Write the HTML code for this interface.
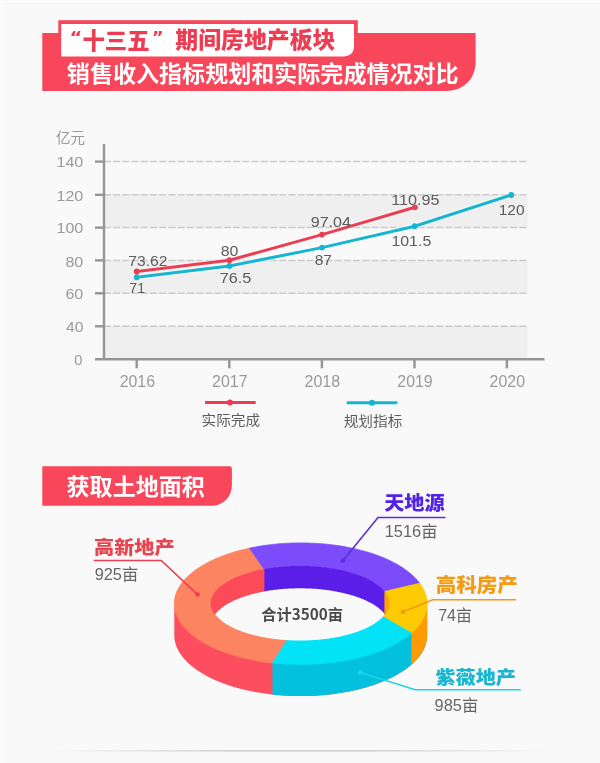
<!DOCTYPE html>
<html><head><meta charset="utf-8"><title>十三五 房地产板块</title>
<style>
html,body{margin:0;padding:0;background:#f9f9f9;}
body{width:600px;height:763px;overflow:hidden;position:relative;}
svg{position:absolute;left:0;top:0;will-change:transform;}
text{font-family:"Liberation Sans","Noto Sans CJK SC",sans-serif;}
.ax{font-size:15px;}
.axc{font-size:14px;}
.yr{font-size:16px;}
.dl{font-size:15px;}
.lg{font-size:14px;}
.ln{font-size:20px;font-weight:900;font-family:"Noto Sans CJK SC",sans-serif;}
.lv{font-size:16px;}
.ct{font-size:16px;font-weight:bold;font-family:"Noto Sans CJK SC",sans-serif;}
.t1{font-family:"Noto Sans CJK SC",sans-serif;font-size:23px;font-weight:900;}
.tq{font-family:"DejaVu Sans",sans-serif;font-size:24px;font-weight:bold;}
.t2{font-family:"Noto Sans CJK SC",sans-serif;font-size:23px;font-weight:bold;}
.t3{font-family:"Noto Sans CJK SC",sans-serif;font-size:23px;font-weight:bold;}
</style></head>
<body>
<svg width="600" height="763" viewBox="0 0 600 763">
<rect width="600" height="763" fill="#f9f9f9"/>
<!-- title -->
<path d="M42.3,33 H475.6 V63 A28 28 0 0 1 447.6,91 H42.3 Z" fill="#f8465b"/>
<rect x="58.3" y="20.2" width="299.5" height="20" fill="#f8465b"/>
<path d="M61.2,23.9 H354 V45.5 Q354,56.4 343,56.4 H61.2 Z" fill="#fff"/>
<!-- chart -->
<rect x="105" y="194.8" width="422.5" height="32.8" fill="#efefef"/>
<rect x="105" y="260.4" width="422.5" height="32.9" fill="#efefef"/>
<rect x="105" y="326.3" width="422.5" height="33" fill="#efefef"/>
<line x1="103.8" y1="161.6" x2="527.5" y2="161.6" stroke="#cccccc" stroke-width="1.5" stroke-dasharray="7.2 2.03"/>
<line x1="95" y1="161.6" x2="104" y2="161.6" stroke="#959595" stroke-width="2.4"/>
<line x1="103.8" y1="194.8" x2="527.5" y2="194.8" stroke="#cccccc" stroke-width="1.5" stroke-dasharray="7.2 2.03"/>
<line x1="95" y1="194.8" x2="104" y2="194.8" stroke="#959595" stroke-width="2.4"/>
<line x1="103.8" y1="227.6" x2="527.5" y2="227.6" stroke="#cccccc" stroke-width="1.5" stroke-dasharray="7.2 2.03"/>
<line x1="95" y1="227.6" x2="104" y2="227.6" stroke="#959595" stroke-width="2.4"/>
<line x1="103.8" y1="260.4" x2="527.5" y2="260.4" stroke="#cccccc" stroke-width="1.5" stroke-dasharray="7.2 2.03"/>
<line x1="95" y1="260.4" x2="104" y2="260.4" stroke="#959595" stroke-width="2.4"/>
<line x1="103.8" y1="293.3" x2="527.5" y2="293.3" stroke="#cccccc" stroke-width="1.5" stroke-dasharray="7.2 2.03"/>
<line x1="95" y1="293.3" x2="104" y2="293.3" stroke="#959595" stroke-width="2.4"/>
<line x1="103.8" y1="326.3" x2="527.5" y2="326.3" stroke="#cccccc" stroke-width="1.5" stroke-dasharray="7.2 2.03"/>
<line x1="95" y1="326.3" x2="104" y2="326.3" stroke="#959595" stroke-width="2.4"/>
<line x1="104" y1="144" x2="104" y2="360" stroke="#959595" stroke-width="2.4"/>
<line x1="95" y1="359.3" x2="544.5" y2="359.3" stroke="#959595" stroke-width="2.4"/>
<line x1="136.7" y1="359" x2="136.7" y2="368.3" stroke="#959595" stroke-width="2.4"/>
<line x1="229.3" y1="359" x2="229.3" y2="368.3" stroke="#959595" stroke-width="2.4"/>
<line x1="321.9" y1="359" x2="321.9" y2="368.3" stroke="#959595" stroke-width="2.4"/>
<line x1="414.5" y1="359" x2="414.5" y2="368.3" stroke="#959595" stroke-width="2.4"/>
<line x1="506.9" y1="359" x2="506.9" y2="368.3" stroke="#959595" stroke-width="2.4"/>
<polyline points="136.75,277.25 229.40,266.00 322.00,247.60 414.70,226.20 511.30,195.00" fill="none" stroke="#fff" stroke-opacity="0.5" stroke-width="5.5" stroke-linejoin="round"/>
<polyline points="136.75,271.50 229.40,260.25 322.00,234.60 414.90,207.30" fill="none" stroke="#fff" stroke-opacity="0.5" stroke-width="5.5" stroke-linejoin="round"/>
<polyline points="136.75,277.25 229.40,266.00 322.00,247.60 414.70,226.20 511.30,195.00" fill="none" stroke="#17b6d0" stroke-width="3" stroke-linejoin="round"/>
<circle cx="136.75" cy="277.25" r="2.9" fill="#17b6d0"/>
<circle cx="229.40" cy="266.00" r="2.9" fill="#17b6d0"/>
<circle cx="322.00" cy="247.60" r="2.9" fill="#17b6d0"/>
<circle cx="414.70" cy="226.20" r="2.9" fill="#17b6d0"/>
<circle cx="511.30" cy="195.00" r="2.9" fill="#17b6d0"/>
<polyline points="136.75,271.50 229.40,260.25 322.00,234.60 414.90,207.30" fill="none" stroke="#eb3e53" stroke-width="3" stroke-linejoin="round"/>
<circle cx="136.75" cy="271.50" r="2.9" fill="#eb3e53"/>
<circle cx="229.40" cy="260.25" r="2.9" fill="#eb3e53"/>
<circle cx="322.00" cy="234.60" r="2.9" fill="#eb3e53"/>
<circle cx="414.90" cy="207.30" r="2.9" fill="#eb3e53"/>
<line x1="205" y1="402.5" x2="255.7" y2="402.5" stroke="#eb3e53" stroke-width="3"/>
<circle cx="230" cy="402.5" r="3" fill="#eb3e53"/>
<line x1="346.7" y1="402.7" x2="397.4" y2="402.7" stroke="#17b6d0" stroke-width="3"/>
<circle cx="372" cy="402.7" r="3" fill="#17b6d0"/>
<!-- section 2 title -->
<path d="M42.3,466.2 H229.4 Q231.9,466.2 231.9,468.7 V485.6 A20 20 0 0 1 211.9,505.7 H42.3 Z" fill="#f8465b"/>
<!-- donut -->
<path d="M427.10,602.20 L427.06,603.79 L426.93,605.38 L426.71,606.97 L426.41,608.56 L426.02,610.14 L425.54,611.71 L424.98,613.28 L424.34,614.84 L423.61,616.39 L422.79,617.94 L421.89,619.47 L420.91,620.99 L419.85,622.50 L418.70,623.99 L417.48,625.47 L416.17,626.93 L414.79,628.38 L413.32,629.80 L411.78,631.21 L410.17,632.60 L408.47,633.97 L406.71,635.31 L404.87,636.64 L402.96,637.94 L400.98,639.21 L398.93,640.46 L396.82,641.69 L394.63,642.88 L392.39,644.05 L390.08,645.19 L387.71,646.30 L385.28,647.38 L382.79,648.43 L380.25,649.45 L377.65,650.44 L375.00,651.39 L372.29,652.31 L369.54,653.19 L366.74,654.04 L363.90,654.85 L361.01,655.63 L358.08,656.37 L355.12,657.08 L352.11,657.74 L349.07,658.37 L346.00,658.96 L342.89,659.51 L339.76,660.02 L336.60,660.50 L333.41,660.93 L330.21,661.32 L326.98,661.67 L323.73,661.98 L320.47,662.25 L317.20,662.48 L313.91,662.67 L310.62,662.81 L307.32,662.92 L304.01,662.98 L300.70,663.00 L297.39,662.98 L294.08,662.92 L290.78,662.81 L287.49,662.67 L284.20,662.48 L280.93,662.25 L277.67,661.98 L274.42,661.67 L271.19,661.32 L267.99,660.93 L264.80,660.50 L261.64,660.02 L258.51,659.51 L255.40,658.96 L252.33,658.37 L249.29,657.74 L246.28,657.08 L243.32,656.37 L240.39,655.63 L237.50,654.85 L234.66,654.04 L231.86,653.19 L229.11,652.31 L226.40,651.39 L223.75,650.44 L221.15,649.45 L218.61,648.43 L216.12,647.38 L213.69,646.30 L211.32,645.19 L209.01,644.05 L206.77,642.88 L204.58,641.69 L202.47,640.46 L200.42,639.21 L198.44,637.94 L196.53,636.64 L194.69,635.31 L192.93,633.97 L191.23,632.60 L189.62,631.21 L188.08,629.80 L186.61,628.38 L185.23,626.93 L183.92,625.47 L182.70,623.99 L181.55,622.50 L180.49,620.99 L179.51,619.47 L178.61,617.94 L177.79,616.39 L177.06,614.84 L176.42,613.28 L175.86,611.71 L175.38,610.14 L174.99,608.56 L174.69,606.97 L174.47,605.38 L174.34,603.79 L174.30,602.20 L174.30,635.30 L174.34,636.89 L174.47,638.48 L174.69,640.07 L174.99,641.66 L175.38,643.24 L175.86,644.81 L176.42,646.38 L177.06,647.94 L177.79,649.49 L178.61,651.04 L179.51,652.57 L180.49,654.09 L181.55,655.60 L182.70,657.09 L183.92,658.57 L185.23,660.03 L186.61,661.48 L188.08,662.90 L189.62,664.31 L191.23,665.70 L192.93,667.07 L194.69,668.41 L196.53,669.74 L198.44,671.04 L200.42,672.31 L202.47,673.56 L204.58,674.79 L206.77,675.98 L209.01,677.15 L211.32,678.29 L213.69,679.40 L216.12,680.48 L218.61,681.53 L221.15,682.55 L223.75,683.54 L226.40,684.49 L229.11,685.41 L231.86,686.29 L234.66,687.14 L237.50,687.95 L240.39,688.73 L243.32,689.47 L246.28,690.18 L249.29,690.84 L252.33,691.47 L255.40,692.06 L258.51,692.61 L261.64,693.12 L264.80,693.60 L267.99,694.03 L271.19,694.42 L274.42,694.77 L277.67,695.08 L280.93,695.35 L284.20,695.58 L287.49,695.77 L290.78,695.91 L294.08,696.02 L297.39,696.08 L300.70,696.10 L304.01,696.08 L307.32,696.02 L310.62,695.91 L313.91,695.77 L317.20,695.58 L320.47,695.35 L323.73,695.08 L326.98,694.77 L330.21,694.42 L333.41,694.03 L336.60,693.60 L339.76,693.12 L342.89,692.61 L346.00,692.06 L349.07,691.47 L352.11,690.84 L355.12,690.18 L358.08,689.47 L361.01,688.73 L363.90,687.95 L366.74,687.14 L369.54,686.29 L372.29,685.41 L375.00,684.49 L377.65,683.54 L380.25,682.55 L382.79,681.53 L385.28,680.48 L387.71,679.40 L390.08,678.29 L392.39,677.15 L394.63,675.98 L396.82,674.79 L398.93,673.56 L400.98,672.31 L402.96,671.04 L404.87,669.74 L406.71,668.41 L408.47,667.07 L410.17,665.70 L411.78,664.31 L413.32,662.90 L414.79,661.48 L416.17,660.03 L417.48,658.57 L418.70,657.09 L419.85,655.60 L420.91,654.09 L421.89,652.57 L422.79,651.04 L423.61,649.49 L424.34,647.94 L424.98,646.38 L425.54,644.81 L426.02,643.24 L426.41,641.66 L426.71,640.07 L426.93,638.48 L427.06,636.89 L427.10,635.30 Z" fill="#fd4e5f"/>
<path d="M427.10,602.20 L427.06,603.81 L426.92,605.41 L426.70,607.01 L426.40,608.61 L426.00,610.21 L425.52,611.79 L424.95,613.38 L424.29,614.95 L423.55,616.52 L422.72,618.07 L421.80,619.62 L420.81,621.15 L419.72,622.67 L418.56,624.17 L417.31,625.66 L415.98,627.13 L414.57,628.59 L413.08,630.03 L411.52,631.44 L409.87,632.84 L408.15,634.22 L406.36,635.57 L404.49,636.90 L402.55,638.21 L400.54,639.49 L398.45,640.74 L396.30,641.97 L394.09,643.17 L391.81,644.34 L389.46,645.49 L387.05,646.60 L384.59,647.68 L382.06,648.73 L379.48,649.75 L376.84,650.73 L374.15,651.68 L371.41,652.60 L368.61,653.48 L365.78,654.32 L362.89,655.13 L359.96,655.90 L357.00,656.64 L353.99,657.33 L350.94,657.99 L347.86,658.61 L344.75,659.19 L341.60,659.73 L338.43,660.23 L335.23,660.69 L332.01,661.11 L328.77,661.48 L325.50,661.82 L322.22,662.11 L318.92,662.36 L315.61,662.58 L312.29,662.74 L308.97,662.87 L305.63,662.95 L302.30,663.00 L298.96,662.99 L295.62,662.95 L292.29,662.87 L288.96,662.74 L285.64,662.57 L282.33,662.35 L279.04,662.10 L275.76,661.80 L272.49,661.47 L272.49,694.57 L275.76,694.90 L279.04,695.20 L282.33,695.45 L285.64,695.67 L288.96,695.84 L292.29,695.97 L295.62,696.05 L298.96,696.09 L302.30,696.10 L305.63,696.05 L308.97,695.97 L312.29,695.84 L315.61,695.68 L318.92,695.46 L322.22,695.21 L325.50,694.92 L328.77,694.58 L332.01,694.21 L335.23,693.79 L338.43,693.33 L341.60,692.83 L344.75,692.29 L347.86,691.71 L350.94,691.09 L353.99,690.43 L357.00,689.74 L359.96,689.00 L362.89,688.23 L365.78,687.42 L368.61,686.58 L371.41,685.70 L374.15,684.78 L376.84,683.83 L379.48,682.85 L382.06,681.83 L384.59,680.78 L387.05,679.70 L389.46,678.59 L391.81,677.44 L394.09,676.27 L396.30,675.07 L398.45,673.84 L400.54,672.59 L402.55,671.31 L404.49,670.00 L406.36,668.67 L408.15,667.32 L409.87,665.94 L411.52,664.54 L413.08,663.13 L414.57,661.69 L415.98,660.23 L417.31,658.76 L418.56,657.27 L419.72,655.77 L420.81,654.25 L421.80,652.72 L422.72,651.17 L423.55,649.62 L424.29,648.05 L424.95,646.48 L425.52,644.89 L426.00,643.31 L426.40,641.71 L426.70,640.11 L426.92,638.51 L427.06,636.91 L427.10,635.30 Z" fill="#03c1de"/>
<path d="M427.10,602.20 L427.06,603.81 L426.92,605.42 L426.70,607.03 L426.39,608.63 L425.99,610.23 L425.51,611.82 L424.93,613.41 L424.27,614.98 L423.53,616.55 L422.69,618.11 L421.77,619.66 L420.77,621.20 L419.68,622.72 L418.51,624.23 L417.26,625.72 L415.92,627.20 L414.51,628.66 L413.01,630.10 L411.43,631.52 L411.43,664.62 L413.01,663.20 L414.51,661.76 L415.92,660.30 L417.26,658.82 L418.51,657.33 L419.68,655.82 L420.77,654.30 L421.77,652.76 L422.69,651.21 L423.53,649.65 L424.27,648.08 L424.93,646.51 L425.51,644.92 L425.99,643.33 L426.39,641.73 L426.70,640.13 L426.92,638.52 L427.06,636.91 L427.10,635.30 Z" fill="#ff9a00"/>
<path d="M272.49,662.97 L269.26,662.59 L266.05,662.17 L262.87,661.71 L259.71,661.21 L256.58,660.68 L253.48,660.10 L250.41,659.48 L247.38,658.83 L244.38,658.13 L241.42,657.40 L238.51,656.63 L235.64,655.83 L232.81,654.99 L230.03,654.11 L227.30,653.20 L224.61,652.25 L221.99,651.27 L219.41,650.26 L216.89,649.22 L214.44,648.14 L212.04,647.03 L209.70,645.90 L207.42,644.73 L205.21,643.54 L203.06,642.31 L200.99,641.07 L198.98,639.79 L197.04,638.49 L195.17,637.17 L193.38,635.82 L191.66,634.45 L190.02,633.06 L188.45,631.65 L186.96,630.22 L185.55,628.77 L184.22,627.31 L182.97,625.83 L181.80,624.33 L180.71,622.82 L179.71,621.29 L178.79,619.76 L177.95,618.21 L177.20,616.65 L176.54,615.08 L175.96,613.51 L175.46,611.93 L175.06,610.34 L174.74,608.75 L174.50,607.15 L174.36,605.56 L174.30,603.96 L174.33,602.36 L174.45,600.76 L174.65,599.16 L174.94,597.57 L175.32,595.98 L175.79,594.40 L176.34,592.82 L176.98,591.25 L177.70,589.69 L178.51,588.14 L179.40,586.60 L180.38,585.07 L181.44,583.55 L182.58,582.05 L183.81,580.57 L185.11,579.09 L186.50,577.64 L187.96,576.21 L189.51,574.79 L191.12,573.39 L192.82,572.02 L194.59,570.66 L196.43,569.33 L198.35,568.02 L200.33,566.74 L202.39,565.48 L204.51,564.25 L206.70,563.05 L208.96,561.88 L211.28,560.73 L213.66,559.61 L216.10,558.53 L218.60,557.47 L221.15,556.45 L223.76,555.46 L226.43,554.50 L229.14,553.58 L231.91,552.69 L234.72,551.84 L237.58,551.02 L240.48,550.24 L243.43,549.50 L246.41,548.79 L249.43,548.13 L265.21,570.85 L263.13,571.23 L261.07,571.64 L259.04,572.06 L257.03,572.51 L255.06,572.98 L253.11,573.47 L251.20,573.98 L249.32,574.51 L247.48,575.06 L245.67,575.63 L243.90,576.22 L242.17,576.83 L240.48,577.46 L238.82,578.10 L237.21,578.76 L235.65,579.44 L234.13,580.14 L232.65,580.85 L231.22,581.58 L229.83,582.32 L228.50,583.08 L227.21,583.85 L225.97,584.63 L224.79,585.43 L223.65,586.24 L222.57,587.06 L221.54,587.89 L220.57,588.73 L219.64,589.59 L218.78,590.45 L217.97,591.32 L217.21,592.20 L216.52,593.09 L215.88,593.98 L215.30,594.88 L214.77,595.79 L214.31,596.70 L213.90,597.62 L213.55,598.54 L213.26,599.47 L213.03,600.39 L212.86,601.32 L212.75,602.25 L212.70,603.19 L212.71,604.12 L212.78,605.05 L212.91,605.98 L213.10,606.91 L213.35,607.84 L213.66,608.76 L214.03,609.68 L214.45,610.60 L214.94,611.51 L215.48,612.41 L216.08,613.31 L216.74,614.20 L217.46,615.09 L218.23,615.97 L219.06,616.84 L219.94,617.70 L220.88,618.55 L221.87,619.39 L222.92,620.21 L224.02,621.03 L225.17,621.84 L226.37,622.63 L227.63,623.41 L228.93,624.17 L230.28,624.93 L231.68,625.66 L233.13,626.38 L234.62,627.09 L236.16,627.78 L237.74,628.45 L239.36,629.11 L241.03,629.75 L242.73,630.37 L244.48,630.97 L246.26,631.56 L248.08,632.12 L249.93,632.66 L251.82,633.19 L253.75,633.69 L255.70,634.18 L257.69,634.64 L259.70,635.08 L261.74,635.50 L263.81,635.90 L265.90,636.27 L268.02,636.62 L270.15,636.95 L272.31,637.26 L274.49,637.55 L276.68,637.81 L278.89,638.04 L281.12,638.26 L283.36,638.45 L285.61,638.61 L287.87,638.75 Z" fill="#fd8460" stroke="#fd8460" stroke-width="0.7" stroke-linejoin="round"/>
<path d="M249.43,548.13 L252.51,547.49 L255.63,546.90 L258.78,546.34 L261.96,545.83 L265.16,545.35 L268.39,544.92 L271.65,544.53 L274.92,544.18 L278.21,543.87 L281.52,543.60 L284.84,543.38 L288.18,543.20 L291.52,543.06 L294.86,542.96 L298.22,542.91 L301.57,542.90 L304.92,542.93 L308.27,543.01 L311.62,543.13 L314.95,543.29 L318.28,543.49 L321.60,543.74 L324.90,544.02 L328.18,544.35 L331.44,544.73 L334.68,545.14 L337.90,545.59 L341.09,546.09 L344.26,546.62 L347.39,547.20 L350.49,547.82 L353.55,548.47 L356.58,549.16 L359.57,549.90 L362.52,550.67 L365.42,551.47 L368.28,552.32 L371.09,553.20 L373.85,554.11 L376.56,555.07 L379.21,556.05 L381.81,557.07 L384.36,558.12 L386.84,559.20 L389.26,560.32 L391.62,561.46 L393.92,562.64 L396.15,563.84 L398.32,565.08 L400.41,566.34 L402.44,567.62 L404.39,568.93 L406.28,570.27 L408.08,571.63 L409.81,573.01 L411.47,574.41 L413.04,575.84 L414.54,577.28 L415.96,578.74 L417.29,580.22 L418.55,581.72 L419.72,583.23 L382.57,591.94 L381.80,591.06 L380.97,590.19 L380.09,589.33 L379.15,588.48 L378.16,587.64 L377.12,586.81 L376.02,586.00 L374.87,585.19 L373.67,584.40 L372.41,583.62 L371.11,582.85 L369.76,582.10 L368.36,581.36 L366.92,580.64 L365.43,579.93 L363.89,579.24 L362.31,578.57 L360.69,577.91 L359.03,577.27 L357.32,576.65 L355.58,576.05 L353.79,575.46 L351.98,574.90 L350.12,574.35 L348.23,573.83 L346.31,573.32 L344.36,572.84 L342.37,572.37 L340.36,571.93 L338.32,571.51 L336.25,571.11 L334.16,570.74 L332.04,570.38 L329.91,570.05 L327.75,569.75 L325.57,569.46 L323.38,569.20 L321.16,568.96 L318.94,568.75 L316.70,568.56 L314.45,568.39 L312.19,568.25 L309.92,568.13 L307.65,568.04 L305.37,567.97 L303.09,567.92 L300.80,567.90 L298.51,567.91 L296.23,567.93 L293.95,567.99 L291.67,568.06 L289.39,568.16 L287.13,568.29 L284.87,568.44 L282.63,568.61 L280.39,568.81 L278.17,569.03 L275.96,569.28 L273.78,569.54 L271.60,569.84 L269.45,570.15 L267.32,570.49 L265.21,570.85 Z" fill="#7c4cfa" stroke="#7c4cfa" stroke-width="0.7" stroke-linejoin="round"/>
<path d="M419.72,583.23 L420.80,584.75 L421.80,586.28 L422.72,587.83 L423.55,589.39 L424.29,590.96 L424.95,592.53 L425.52,594.12 L426.00,595.71 L426.40,597.31 L426.71,598.91 L426.93,600.52 L427.06,602.12 L427.10,603.73 L427.05,605.34 L426.92,606.95 L426.70,608.55 L426.39,610.15 L425.99,611.75 L425.50,613.34 L424.93,614.93 L424.27,616.50 L423.52,618.07 L422.69,619.63 L421.77,621.17 L420.76,622.71 L419.68,624.23 L418.51,625.74 L417.25,627.23 L415.92,628.70 L414.50,630.16 L413.01,631.60 L411.43,633.02 L381.84,615.90 L382.61,615.01 L383.33,614.12 L383.99,613.22 L384.58,612.31 L385.13,611.40 L385.61,610.48 L386.03,609.55 L386.39,608.63 L386.69,607.69 L386.93,606.76 L387.11,605.82 L387.23,604.88 L387.29,603.94 L387.29,603.00 L387.23,602.06 L387.11,601.13 L386.92,600.19 L386.68,599.26 L386.37,598.32 L386.01,597.40 L385.58,596.47 L385.10,595.55 L384.55,594.64 L383.95,593.73 L383.29,592.83 L382.57,591.94 Z" fill="#fecb02" stroke="#fecb02" stroke-width="0.7" stroke-linejoin="round"/>
<path d="M411.43,633.02 L409.79,634.41 L408.07,635.79 L406.27,637.14 L404.40,638.47 L402.46,639.77 L400.44,641.05 L398.36,642.30 L396.21,643.53 L393.99,644.72 L391.71,645.89 L389.36,647.03 L386.96,648.14 L384.49,649.22 L381.96,650.27 L379.38,651.28 L376.74,652.27 L374.05,653.21 L371.31,654.13 L368.52,655.01 L365.69,655.85 L362.80,656.66 L359.88,657.42 L356.91,658.16 L353.91,658.85 L350.86,659.51 L347.79,660.12 L344.67,660.70 L341.53,661.24 L338.36,661.74 L335.17,662.20 L331.95,662.61 L328.71,662.99 L325.45,663.32 L322.17,663.62 L318.87,663.87 L315.57,664.08 L312.25,664.25 L308.93,664.37 L305.60,664.45 L302.26,664.50 L298.93,664.49 L295.60,664.45 L292.27,664.36 L288.94,664.24 L285.63,664.07 L282.32,663.85 L279.03,663.60 L275.75,663.30 L272.49,662.97 L287.87,638.75 L290.17,638.87 L292.47,638.97 L294.79,639.04 L297.10,639.08 L299.42,639.10 L301.74,639.09 L304.06,639.06 L306.37,639.01 L308.68,638.92 L310.99,638.82 L313.28,638.69 L315.57,638.53 L317.84,638.35 L320.11,638.14 L322.36,637.91 L324.59,637.66 L326.81,637.38 L329.00,637.08 L331.18,636.75 L333.33,636.40 L335.46,636.03 L337.57,635.63 L339.65,635.22 L341.70,634.78 L343.72,634.31 L345.71,633.83 L347.67,633.32 L349.60,632.80 L351.49,632.25 L353.34,631.68 L355.16,631.09 L356.94,630.49 L358.68,629.86 L360.37,629.22 L362.02,628.55 L363.63,627.87 L365.20,627.17 L366.72,626.46 L368.19,625.73 L369.61,624.98 L370.99,624.22 L372.31,623.45 L373.59,622.65 L374.81,621.85 L375.98,621.03 L377.09,620.21 L378.15,619.36 L379.16,618.51 L380.11,617.65 L381.00,616.78 L381.84,615.90 Z" fill="#02e3f7" stroke="#02e3f7" stroke-width="0.7" stroke-linejoin="round"/>
<path d="M388.70,603.50 L388.67,604.47 L388.58,605.44 L388.43,606.40 L388.21,607.37 L387.94,608.33 L387.61,609.29 L387.21,610.24 L386.76,611.19 L386.25,612.14 L385.68,613.08 L385.05,614.01 L384.36,614.93 L383.61,615.85 L382.81,616.76 L381.95,617.66 L381.03,618.55 L380.06,619.43 L379.03,620.30 L377.95,621.15 L376.82,622.00 L375.63,622.83 L374.39,623.65 L373.10,624.46 L371.76,625.25 L370.37,626.02 L368.93,626.78 L367.45,627.53 L365.92,628.26 L364.34,628.97 L362.72,629.66 L361.06,630.34 L359.35,631.00 L357.61,631.64 L355.82,632.25 L354.00,632.85 L352.14,633.43 L350.24,633.99 L348.31,634.53 L346.35,635.05 L344.35,635.54 L342.32,636.02 L340.27,636.47 L338.19,636.90 L336.08,637.30 L333.94,637.68 L331.79,638.04 L329.61,638.38 L327.41,638.69 L325.19,638.98 L322.96,639.24 L320.71,639.48 L318.44,639.69 L316.16,639.88 L313.88,640.04 L311.58,640.18 L309.27,640.30 L306.96,640.39 L304.64,640.45 L302.32,640.49 L300.00,640.50 L297.68,640.49 L295.36,640.45 L293.04,640.39 L290.73,640.30 L288.42,640.18 L286.12,640.04 L283.84,639.88 L281.56,639.69 L279.29,639.48 L277.04,639.24 L274.81,638.98 L272.59,638.69 L270.39,638.38 L268.21,638.04 L266.06,637.68 L263.92,637.30 L261.81,636.90 L259.73,636.47 L257.68,636.02 L255.65,635.54 L253.65,635.05 L251.69,634.53 L249.76,633.99 L247.86,633.43 L246.00,632.85 L244.18,632.25 L242.39,631.64 L240.65,631.00 L238.94,630.34 L237.28,629.66 L235.66,628.97 L234.08,628.26 L232.55,627.53 L231.07,626.78 L229.63,626.02 L228.24,625.25 L226.90,624.46 L225.61,623.65 L224.37,622.83 L223.18,622.00 L222.05,621.15 L220.97,620.30 L219.94,619.43 L218.97,618.55 L218.05,617.66 L217.19,616.76 L216.39,615.85 L215.64,614.93 L214.95,614.01 L214.32,613.08 L213.75,612.14 L213.24,611.19 L212.79,610.24 L212.39,609.29 L212.06,608.33 L211.79,607.37 L211.57,606.40 L211.42,605.44 L211.33,604.47 L211.30,603.50 L211.33,602.53 L211.42,601.56 L211.57,600.60 L211.79,599.63 L212.06,598.67 L212.39,597.71 L212.79,596.76 L213.24,595.81 L213.75,594.86 L214.32,593.92 L214.95,592.99 L215.64,592.07 L216.39,591.15 L217.19,590.24 L218.05,589.34 L218.97,588.45 L219.94,587.57 L220.97,586.70 L222.05,585.85 L223.18,585.00 L224.37,584.17 L225.61,583.35 L226.90,582.54 L228.24,581.75 L229.63,580.98 L231.07,580.22 L232.55,579.47 L234.08,578.74 L235.66,578.03 L237.28,577.34 L238.94,576.66 L240.65,576.00 L242.39,575.36 L244.18,574.75 L246.00,574.15 L247.86,573.57 L249.76,573.01 L251.69,572.47 L253.65,571.95 L255.65,571.46 L257.68,570.98 L259.73,570.53 L261.81,570.10 L263.92,569.70 L266.06,569.32 L268.21,568.96 L270.39,568.62 L272.59,568.31 L274.81,568.02 L277.04,567.76 L279.29,567.52 L281.56,567.31 L283.84,567.12 L286.12,566.96 L288.42,566.82 L290.73,566.70 L293.04,566.61 L295.36,566.55 L297.68,566.51 L300.00,566.50 L302.32,566.51 L304.64,566.55 L306.96,566.61 L309.27,566.70 L311.58,566.82 L313.88,566.96 L316.16,567.12 L318.44,567.31 L320.71,567.52 L322.96,567.76 L325.19,568.02 L327.41,568.31 L329.61,568.62 L331.79,568.96 L333.94,569.32 L336.08,569.70 L338.19,570.10 L340.27,570.53 L342.32,570.98 L344.35,571.46 L346.35,571.95 L348.31,572.47 L350.24,573.01 L352.14,573.57 L354.00,574.15 L355.82,574.75 L357.61,575.36 L359.35,576.00 L361.06,576.66 L362.72,577.34 L364.34,578.03 L365.92,578.74 L367.45,579.47 L368.93,580.22 L370.37,580.98 L371.76,581.75 L373.10,582.54 L374.39,583.35 L375.63,584.17 L376.82,585.00 L377.95,585.85 L379.03,586.70 L380.06,587.57 L381.03,588.45 L381.95,589.34 L382.81,590.24 L383.61,591.15 L384.36,592.07 L385.05,592.99 L385.68,593.92 L386.25,594.86 L386.76,595.81 L387.21,596.76 L387.61,597.71 L387.94,598.67 L388.21,599.63 L388.43,600.60 L388.58,601.56 L388.67,602.53 L388.70,603.50 Z" fill="#f9f9f9"/>
<path d="M214.75,614.70 L214.15,613.86 L213.60,613.01 L213.10,612.15 L212.64,611.29 L212.23,610.43 L211.87,609.56 L211.56,608.69 L211.29,607.82 L211.08,606.94 L210.91,606.07 L210.79,605.19 L210.72,604.31 L210.70,603.43 L210.73,602.55 L210.81,601.67 L210.93,600.79 L211.11,599.91 L211.33,599.04 L211.60,598.16 L211.93,597.29 L212.29,596.43 L212.71,595.56 L213.18,594.70 L213.69,593.85 L214.25,593.00 L214.86,592.16 L215.51,591.32 L216.21,590.49 L216.96,589.67 L217.75,588.86 L218.59,588.05 L219.47,587.25 L220.39,586.46 L221.36,585.68 L222.37,584.91 L223.43,584.15 L224.53,583.40 L225.66,582.66 L226.84,581.94 L228.06,581.22 L229.32,580.52 L230.62,579.83 L231.95,579.15 L233.33,578.49 L234.74,577.84 L236.18,577.20 L237.66,576.58 L239.18,575.97 L240.72,575.38 L242.30,574.80 L243.91,574.24 L245.56,573.70 L247.23,573.17 L248.93,572.66 L250.66,572.16 L252.42,571.68 L254.20,571.22 L256.01,570.78 L257.84,570.35 L259.69,569.95 L261.57,569.56 L263.47,569.19 L265.38,568.84 L265.40,568.84 L265.40,591.24 L264.22,591.45 L262.93,591.69 L261.65,591.94 L260.37,592.20 L259.11,592.47 L257.86,592.75 L256.61,593.04 L255.38,593.33 L254.16,593.63 L252.95,593.94 L251.75,594.26 L250.57,594.59 L249.40,594.92 L248.24,595.26 L247.09,595.61 L245.96,595.97 L244.84,596.33 L243.73,596.70 L242.64,597.08 L241.56,597.47 L240.50,597.86 L239.45,598.26 L238.41,598.67 L237.40,599.09 L236.40,599.51 L235.41,599.94 L234.44,600.37 L233.49,600.81 L232.55,601.26 L231.63,601.71 L230.73,602.17 L229.84,602.64 L228.98,603.11 L228.13,603.58 L227.30,604.07 L226.48,604.56 L225.69,605.05 L224.91,605.55 L224.16,606.05 L223.42,606.56 L222.70,607.07 L222.00,607.59 L221.32,608.11 L220.66,608.64 L220.02,609.17 L219.40,609.71 L218.80,610.25 L218.22,610.79 L217.67,611.34 L217.13,611.89 L216.61,612.45 L216.11,613.01 L215.64,613.57 L215.19,614.13 L214.75,614.70 Z" fill="#fc4a59"/>
<path d="M264.40,569.02 L265.38,568.84 L267.32,568.51 L269.28,568.20 L271.25,567.90 L273.23,567.63 L275.24,567.37 L277.25,567.14 L279.28,566.93 L281.32,566.73 L283.37,566.56 L285.43,566.40 L287.50,566.27 L289.57,566.16 L291.65,566.06 L293.73,565.99 L295.82,565.94 L297.91,565.91 L300.00,565.90 L302.09,565.91 L304.18,565.94 L306.27,565.99 L308.35,566.06 L310.43,566.16 L312.50,566.27 L314.57,566.40 L316.63,566.56 L318.68,566.73 L320.72,566.93 L322.75,567.14 L324.76,567.37 L326.77,567.63 L328.75,567.90 L330.72,568.20 L332.68,568.51 L334.62,568.84 L336.53,569.19 L338.43,569.56 L340.31,569.95 L342.16,570.35 L343.99,570.78 L345.80,571.22 L347.58,571.68 L349.34,572.16 L351.07,572.66 L352.77,573.17 L354.44,573.70 L356.09,574.24 L357.70,574.80 L359.28,575.38 L360.82,575.97 L362.34,576.58 L363.82,577.20 L365.26,577.84 L366.67,578.49 L368.05,579.15 L369.38,579.83 L370.68,580.52 L371.94,581.22 L373.16,581.94 L374.34,582.66 L375.47,583.40 L376.57,584.15 L377.63,584.91 L378.64,585.68 L379.61,586.46 L380.53,587.25 L381.41,588.05 L382.25,588.86 L383.04,589.67 L383.79,590.49 L384.49,591.32 L385.14,592.16 L385.40,592.52 L385.40,614.48 L385.25,614.70 L385.25,614.70 L384.81,614.13 L384.36,613.57 L383.89,613.01 L383.39,612.45 L382.87,611.89 L382.33,611.34 L381.78,610.79 L381.20,610.25 L380.60,609.71 L379.98,609.17 L379.34,608.64 L378.68,608.11 L378.00,607.59 L377.30,607.07 L376.58,606.56 L375.84,606.05 L375.09,605.55 L374.31,605.05 L373.52,604.56 L372.70,604.07 L371.87,603.58 L371.02,603.11 L370.16,602.64 L369.27,602.17 L368.37,601.71 L367.45,601.26 L366.51,600.81 L365.56,600.37 L364.59,599.94 L363.60,599.51 L362.60,599.09 L361.59,598.67 L360.55,598.26 L359.50,597.86 L358.44,597.47 L357.36,597.08 L356.27,596.70 L355.16,596.33 L354.04,595.97 L352.91,595.61 L351.76,595.26 L350.60,594.92 L349.43,594.59 L348.25,594.26 L347.05,593.94 L345.84,593.63 L344.62,593.33 L343.39,593.04 L342.14,592.75 L340.89,592.47 L339.63,592.20 L338.35,591.94 L337.07,591.69 L335.78,591.45 L334.47,591.21 L333.16,590.99 L331.85,590.77 L330.52,590.56 L329.19,590.36 L327.84,590.17 L326.49,589.99 L325.14,589.82 L323.78,589.66 L322.41,589.50 L321.04,589.36 L319.66,589.22 L318.28,589.10 L316.89,588.98 L315.49,588.87 L314.10,588.77 L312.70,588.68 L311.30,588.60 L309.89,588.53 L308.48,588.47 L307.07,588.42 L305.66,588.38 L304.25,588.34 L302.83,588.32 L301.42,588.30 L300.00,588.30 L298.58,588.30 L297.17,588.32 L295.75,588.34 L294.34,588.38 L292.93,588.42 L291.52,588.47 L290.11,588.53 L288.70,588.60 L287.30,588.68 L285.90,588.77 L284.51,588.87 L283.11,588.98 L281.72,589.10 L280.34,589.22 L278.96,589.36 L277.59,589.50 L276.22,589.66 L274.86,589.82 L273.51,589.99 L272.16,590.17 L270.81,590.36 L269.48,590.56 L268.15,590.77 L266.84,590.99 L265.53,591.21 L264.40,591.42 Z" fill="#5a1ee8"/>
<path d="M384.40,591.22 L384.49,591.32 L385.14,592.16 L385.75,593.00 L386.31,593.85 L386.82,594.70 L387.29,595.56 L387.71,596.43 L388.07,597.29 L388.40,598.16 L388.67,599.04 L388.89,599.91 L389.07,600.79 L389.19,601.67 L389.27,602.55 L389.30,603.43 L389.28,604.31 L389.21,605.19 L389.09,606.07 L388.92,606.94 L388.71,607.82 L388.44,608.69 L388.13,609.56 L387.77,610.43 L387.36,611.29 L386.90,612.15 L386.40,613.01 L385.85,613.86 L385.25,614.70 L385.25,614.70 L384.81,614.13 L384.40,613.62 Z" fill="#ff9f05"/>
<polyline points="93.75,560.50 161.25,560.50 197.60,594.60" fill="none" stroke="#eb3e53" stroke-width="1.6"/>
<circle cx="197.60" cy="594.60" r="2.3" fill="#eb3e53"/>
<polyline points="445.50,517.50 378.00,517.50 343.00,560.50" fill="none" stroke="#5a2de0" stroke-width="1.6"/>
<circle cx="343.00" cy="560.50" r="2.3" fill="#5a2de0"/>
<polyline points="516.00,599.70 432.70,599.70 402.90,612.00" fill="none" stroke="#f39a12" stroke-width="1.6"/>
<circle cx="402.90" cy="612.00" r="2.3" fill="#f39a12"/>
<polyline points="520.90,689.70 415.20,689.70 360.30,672.50" fill="none" stroke="#1ed3e8" stroke-width="1.6"/>
<circle cx="360.30" cy="672.50" r="2.3" fill="#1ed3e8"/>
<text id="y140" class="ax" fill="#9a9a9a" transform="translate(56.54 167.20) scale(1.0695 1.0000)">140</text>
<text id="y120" class="ax" fill="#9a9a9a" transform="translate(56.54 200.57) scale(1.0695 1.0000)">120</text>
<text id="y100" class="ax" fill="#9a9a9a" transform="translate(56.54 232.98) scale(1.0695 1.0000)">100</text>
<text id="y80" class="ax" fill="#9a9a9a" transform="translate(65.42 266.54) scale(1.0687 1.0000)">80</text>
<text id="y60" class="ax" fill="#9a9a9a" transform="translate(65.43 298.72) scale(1.0683 1.0000)">60</text>
<text id="y40" class="ax" fill="#9a9a9a" transform="translate(65.98 331.87) scale(1.0435 1.0000)">40</text>
<text id="y0" class="ax" fill="#9a9a9a" transform="translate(74.34 364.57) scale(0.9872 1.0000)">0</text>
<text id="yy" class="axc" fill="#9a9a9a" transform="translate(55.93 142.71) scale(1.0341 1.0341)">亿元</text>
<text id="x2016" class="yr" fill="#9a9a9a" transform="translate(119.63 387.07) scale(0.9943 1.0000)">2016</text>
<text id="x2017" class="yr" fill="#9a9a9a" transform="translate(212.06 387.35) scale(0.9975 1.0000)">2017</text>
<text id="x2018" class="yr" fill="#9a9a9a" transform="translate(304.57 387.14) scale(0.9995 1.0000)">2018</text>
<text id="x2019" class="yr" fill="#9a9a9a" transform="translate(397.34 387.35) scale(0.9917 1.0000)">2019</text>
<text id="x2020" class="yr" fill="#9a9a9a" transform="translate(489.62 387.06) scale(0.9943 1.0000)">2020</text>
<text id="d73.62" class="dl" fill="#5c5c5c" transform="translate(128.31 266.01) scale(1.0469 1.0000)">73.62</text>
<text id="d80" class="dl" fill="#5c5c5c" transform="translate(220.69 255.71) scale(1.0594 1.0000)">80</text>
<text id="d97.04" class="dl" fill="#5c5c5c" transform="translate(310.78 227.18) scale(1.0705 1.0000)">97.04</text>
<text id="d110.95" class="dl" fill="#5c5c5c" transform="translate(391.14 204.73) scale(1.0833 1.0000)">110.95</text>
<text id="d71" class="dl" fill="#5c5c5c" transform="translate(129.37 292.80) scale(0.9365 1.0000)">71</text>
<text id="d76.5" class="dl" fill="#5c5c5c" transform="translate(219.67 283.25) scale(1.0867 1.0000)">76.5</text>
<text id="d87" class="dl" fill="#5c5c5c" transform="translate(314.65 264.97) scale(1.0354 1.0000)">87</text>
<text id="d101.5" class="dl" fill="#5c5c5c" transform="translate(391.42 246.22) scale(1.0613 1.0000)">101.5</text>
<text id="d120" class="dl" fill="#5c5c5c" transform="translate(498.71 214.81) scale(1.0312 1.0000)">120</text>
<text id="lg1" class="lg" fill="#5c5c5c" transform="translate(201.55 425.44) scale(1.0447 0.9612)">实际完成</text>
<text id="lg2" class="lg" fill="#5c5c5c" transform="translate(343.68 425.91) scale(1.0468 0.9630)">规划指标</text>
<text id="n1" class="ln" fill="#e8434f" transform="translate(94.10 553.58) scale(1.0055 0.9351)">高新地产</text>
<text id="v1" class="lv" fill="#666666" transform="translate(94.64 580.42) scale(1.0234 1.0234)">925亩</text>
<text id="n2" class="ln" fill="#5222e6" transform="translate(384.17 509.83) scale(1.0099 0.9392)">天地源</text>
<text id="v2" class="lv" fill="#666666" transform="translate(384.74 537.31) scale(1.0268 1.0268)">1516亩</text>
<text id="n3" class="ln" fill="#f49a14" transform="translate(435.72 591.71) scale(1.0282 0.9562)">高科房产</text>
<text id="v3" class="lv" fill="#666666" transform="translate(438.14 620.64) scale(1.0001 1.0001)">74亩</text>
<text id="n4" class="ln" fill="#1ab5cf" transform="translate(435.43 683.82) scale(1.0071 0.9366)">紫薇地产</text>
<text id="v4" class="lv" fill="#666666" transform="translate(434.54 710.60) scale(1.0265 1.0265)">985亩</text>
<text id="ct" class="ct" fill="#4a4a4a" transform="translate(261.24 620.14) scale(0.9541 0.9541)">合计3500亩</text>
<text id="q1" class="tq" fill="#ee3d52" transform="translate(69.43 43.32) scale(0.8129 0.6867)">“</text>
<text id="s1" class="t1" fill="#ee3d52" transform="translate(82.40 48.78) scale(0.9763 0.9763)">十三五</text>
<text id="q2" class="tq" fill="#ee3d52" transform="translate(151.69 43.25) scale(0.7600 0.6589)">”</text>
<text id="s2" class="t1" fill="#ee3d52" transform="translate(175.37 48.38) scale(0.9954 0.9954)">期间房地产板块</text>
<text id="l2" class="t2" fill="#ffffff" transform="translate(66.85 82.30) scale(1.0027 1.0027)">销售收入指标规划和实际完成情况对比</text>
<text id="h2" class="t3" fill="#ffffff" transform="translate(66.58 495.12) scale(1.0021 1.0021)">获取土地面积</text>
<rect x="50" y="750" width="500" height="1.6" fill="url(#fl)"/>
<rect x="0" y="1" width="600" height="1" fill="#fff"/>
<rect x="1" y="1" width="1" height="762" fill="#fff"/>
<defs><linearGradient id="fl" gradientUnits="userSpaceOnUse" x1="50" x2="550" y1="0" y2="0"><stop offset="0" stop-color="#d2d2d2" stop-opacity="0"/><stop offset="0.35" stop-color="#d2d2d2"/><stop offset="0.65" stop-color="#d2d2d2"/><stop offset="1" stop-color="#d2d2d2" stop-opacity="0"/></linearGradient></defs>
</svg>
</body></html>
